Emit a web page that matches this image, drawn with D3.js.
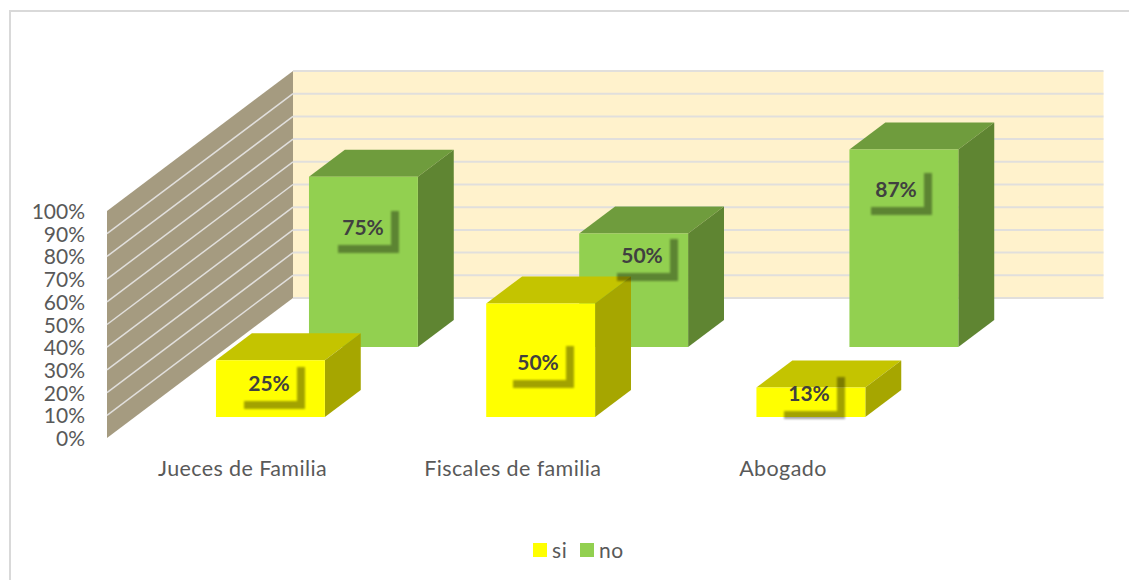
<!DOCTYPE html>
<html>
<head>
<meta charset="utf-8">
<style>
    html, body { margin: 0; padding: 0; background: #fff; overflow: hidden; }
    svg { display: block; }
    text { font-family: Lato, "Open Sans", sans-serif; }
</style>
</head>
<body>
<svg width="1129" height="580"></svg>
<script src="https://cdn.jsdelivr.net/npm/d3@7"></script>
<script>
// values
const categories = ['Jueces de Familia', 'Fiscales de familia', 'Abogado']
const seriesNames = ['si', 'no']
const si_values = [0.25, 0.50, 0.13]
const no_values = [0.75, 0.50, 0.87]
const y_ticks = [0, 0.1, 0.2, 0.3, 0.4, 0.5, 0.6, 0.7, 0.8, 0.9, 1]

const colors = {
    si: { front: '#ffff00', top: '#c4c400', side: '#a6a600' },
    no: { front: '#92d050', top: '#6f9c3d', side: '#5f8532' }
}
const text_color = '#595959',
    label_color = '#404040',
    grid_color = '#e1dfdc',
    wall_color = '#a59b80',
    back_color = '#fff2cc'

// how far the hand placed data labels sit from the middle of their bar
const label_nudge = {
    si: [[-1, -5], [-3, 3], [-2, -8]],
    no: [[0, -34], [8, -34], [-8, -58]]
}

const svg = d3.select('svg')

// the depth axis goes up and to the right on screen
const depth_x = 186,
    depth_y = -140

const x0 = 107,
    x1 = 917.5

const x = d3.scaleBand()
    .domain(categories)
    .range([x0, x1 + 1])
    .paddingInner(0.597)
    .paddingOuter(0.3)
const y = d3.scaleLinear()
    .domain([0, 1])
    .range([438, 211])
const z = d3.scaleOrdinal()
    .domain(seriesNames)
    .range([0.15, 0.65])
const bar_depth = 0.193

const px = (xv, zv) => xv + zv * depth_x,
    py = (val, zv) => y(val) + zv * depth_y,
    poly = d3.line().x((d) => px(d[0], d[1])).y((d) => py(d[2], d[1]))

const defs = svg.append('defs')
defs.append('filter')
    .attr('id', 'label-shadow')
    .attr('filterUnits', 'userSpaceOnUse')
    .attr('x', -50).attr('y', -40)
    .attr('width', 120).attr('height', 90)
    .append('feGaussianBlur')
    .attr('stdDeviation', 1.2)

// chart frame, runs off the right and bottom of the page
svg.append('rect')
    .attr('x', 10).attr('y', 11)
    .attr('width', 1140).attr('height', 600)
    .style('fill', '#fff')
    .style('stroke', '#d9d9d9')
    .style('stroke-width', 2)

// back wall
svg.append('path')
    .attr('d', poly([[x0, 1, 0], [x1, 1, 0], [x1, 1, 1], [x0, 1, 1]]) + 'Z')
    .style('fill', back_color)

// side wall
svg.append('path')
    .attr('d', poly([[x0, 0, 0], [x0, 1, 0], [x0, 1, 1], [x0, 0, 1]]) + 'Z')
    .style('fill', wall_color)

svg.selectAll('.grid-back')
    .data(y_ticks)
    .enter().append('path')
    .attr('class', 'grid-back')
    .attr('d', (d) => poly([[x0, 1, d], [x1, 1, d]]))
    .style('fill', 'none')
    .style('stroke', grid_color)
    .style('stroke-width', 2)

svg.selectAll('.grid-side')
    .data(y_ticks.slice(1, -1))
    .enter().append('path')
    .attr('class', 'grid-side')
    .attr('d', (d) => poly([[x0, 0, d], [x0, 1, d]]))
    .style('fill', 'none')
    .style('stroke', grid_color)
    .style('stroke-width', 1.5)

// axes
const y_axis = svg.append('g')
    .attr('transform', 'translate(' + x0 + ',0)')
    .call(d3.axisLeft(y).tickValues(y_ticks).tickFormat(d3.format('.0%')).tickSize(0).tickPadding(22))
y_axis.select('.domain').remove()
y_axis.selectAll('text')
    .attr('dy', '0.36em')
    .style('font-family', 'Lato, sans-serif')
    .style('font-size', '21px')
    .style('fill', text_color)

const x_axis = svg.append('g')
    .attr('transform', 'translate(0,461)')
    .call(d3.axisBottom(x).tickSize(0).tickPadding(0))
x_axis.select('.domain').remove()
x_axis.selectAll('text')
    .style('font-family', 'Lato, sans-serif')
    .style('font-size', '21.5px')
    .style('letter-spacing', '0.4px')
    .style('fill', text_color)

// flatten to one record per bar, far row first so the near row paints over it
const bars = []
seriesNames.slice().reverse().forEach(function (name) {
    const values = name === 'si' ? si_values : no_values
    categories.forEach(function (cat, i) {
        bars.push({ cat: cat, name: name, value: values[i], i: i })
    })
})

const bar = svg.selectAll('.bar')
    .data(bars)
    .enter().append('g')
    .attr('class', 'bar')

bar.append('path') // top
    .attr('d', function (d) {
        const a = x(d.cat), b = a + x.bandwidth(), n = z(d.name), f = n + bar_depth
        return poly([[a, n, d.value], [b, n, d.value], [b, f, d.value], [a, f, d.value]]) + 'Z'
    })
    .style('fill', (d) => colors[d.name].top)

bar.append('path') // side
    .attr('d', function (d) {
        const b = x(d.cat) + x.bandwidth(), n = z(d.name), f = n + bar_depth
        return poly([[b, n, 0], [b, f, 0], [b, f, d.value], [b, n, d.value]]) + 'Z'
    })
    .style('fill', (d) => colors[d.name].side)

bar.append('path') // front
    .attr('d', function (d) {
        const a = x(d.cat), b = a + x.bandwidth(), n = z(d.name)
        return poly([[a, n, 0], [b, n, 0], [b, n, d.value], [a, n, d.value]]) + 'Z'
    })
    .style('fill', (d) => colors[d.name].front)

// data labels go last, their shadows fall across neighbouring bars
const label = svg.selectAll('.data-label')
    .data(bars)
    .enter().append('g')
    .attr('class', 'data-label')
    .attr('transform', function (d) {
        const n = z(d.name),
            cx = px(x(d.cat) + x.bandwidth() / 2, n) + label_nudge[d.name][d.i][0],
            cy = py(d.value / 2, n) + label_nudge[d.name][d.i][1]
        return 'translate(' + Math.round(cx) + ',' + Math.round(cy) + ')'
    })

// the box is see-through in the original, only its shadow shows: an L along the right and bottom
label.append('path')
    .attr('d', 'M28,-17H36V25H-25V17H28Z')
    .attr('filter', 'url(#label-shadow)')
    .style('fill', '#000')
    .style('opacity', 0.36)

label.append('text')
    .attr('text-anchor', 'middle')
    .attr('dy', '0.35em')
    .text((d) => d3.format('.0%')(d.value))
    .style('font-size', '21px')
    .style('font-weight', 700)
    .style('fill', label_color)

// legend
const legend_x = d3.scaleOrdinal().domain(seriesNames).range([533, 580])
const legend = svg.selectAll('.legend')
    .data(seriesNames)
    .enter().append('g')
    .attr('class', 'legend')
    .attr('transform', (d) => 'translate(' + legend_x(d) + ',543)')
legend.append('rect')
    .attr('width', 14).attr('height', 14)
    .style('fill', (d) => colors[d].front)
legend.append('text')
    .attr('x', 19).attr('y', 7)
    .attr('dy', '0.36em')
    .text((d) => d)
    .style('font-size', '21px')
    .style('letter-spacing', '0.6px')
    .style('fill', text_color)
</script>
</body>
</html>
